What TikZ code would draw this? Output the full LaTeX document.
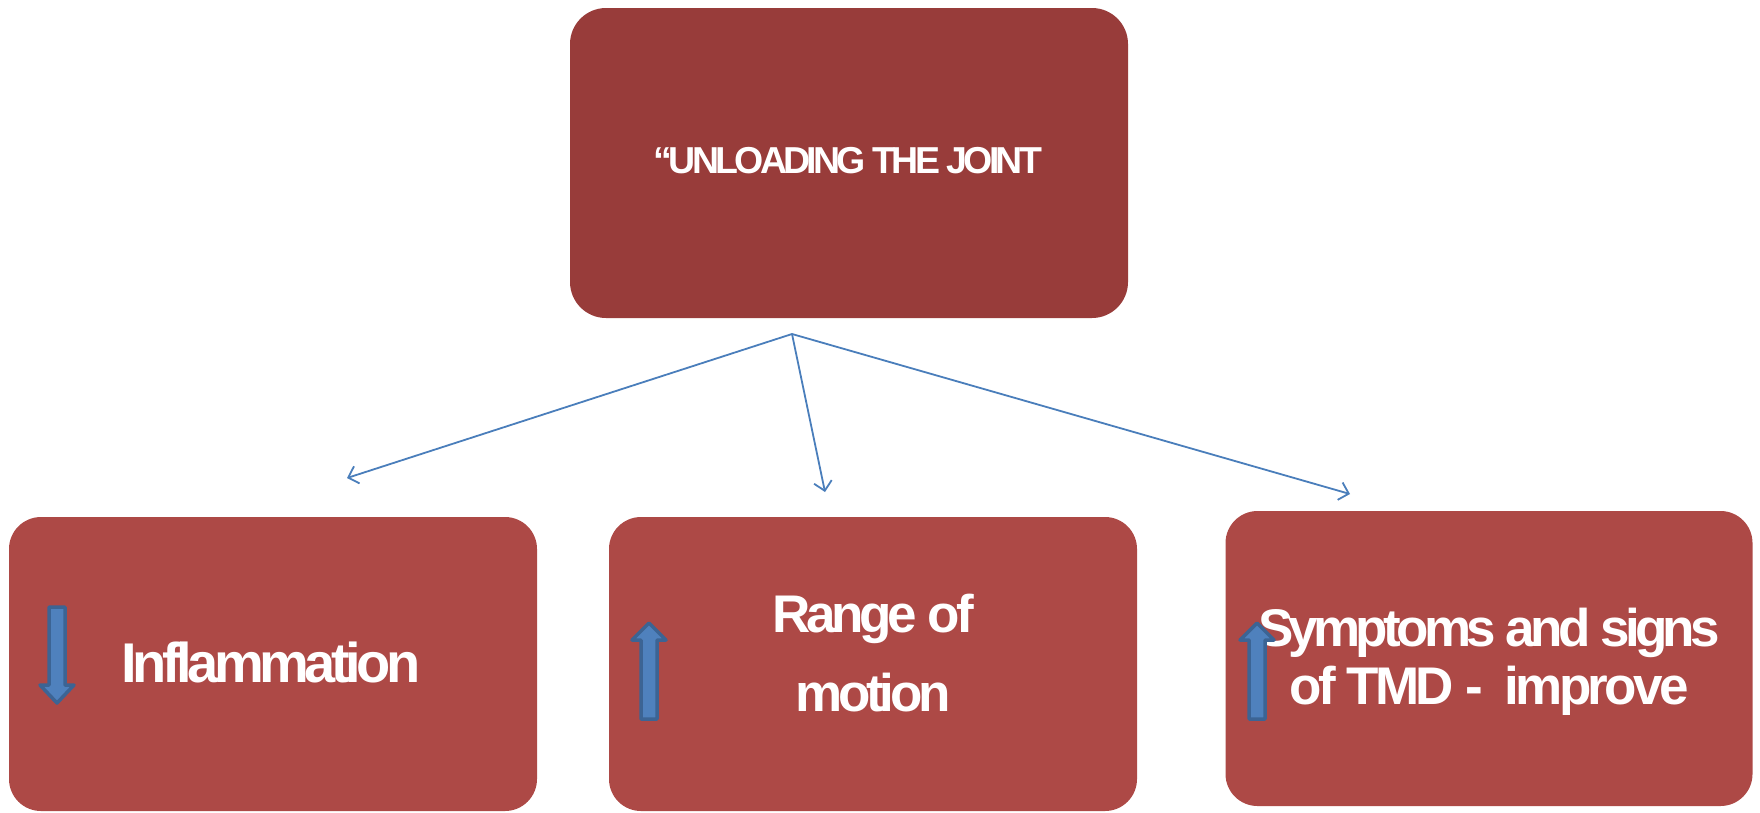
\documentclass[tikz,border=0pt]{standalone}
\usepackage{fontspec}
\setmainfont{Liberation Sans}
\usetikzlibrary{arrows.meta}
\definecolor{topred}{HTML}{983C3A}
\definecolor{botred}{HTML}{AD4946}
\definecolor{linkblue}{HTML}{4A7EBB}
\definecolor{bafill}{HTML}{4F81BD}
\definecolor{baline}{HTML}{3C6494}
\tikzset{
  box/.style={rectangle, rounded corners=32pt, fill=botred, draw=none, inner sep=0pt,
    minimum width=528pt, minimum height=294pt},
  lbl/.style={text=white, inner sep=0pt, align=center},
  connector/.style={draw=linkblue, line width=1.8pt,
    -{Straight Barb[length=9pt,width=18pt,line width=1.8pt]}},
  blockarrow/.style={fill=bafill, draw=baline, line width=3.5pt, line join=round}
}
\begin{document}
\begin{tikzpicture}[x=1pt,y=-1pt]
\useasboundingbox (0,0) rectangle (1760,812);
% boxes
\node[box, fill=topred, rounded corners=36pt, minimum width=558pt, minimum height=310pt] (top) at (849,163) {};
\node[box] (left) at (273,664) {};
\node[box] (mid) at (873,664) {};
\node[box, minimum width=527pt, minimum height=295pt] (right) at (1489,658.5) {};
% texts
\node[lbl, anchor=base, font=\fontsize{37.5}{45}\selectfont\bfseries\addfontfeature{LetterSpace=-10}] (toptxt) at (848,173) {“UNLOADING THE JOINT};
\node[lbl, anchor=base, font=\fontsize{56}{67}\selectfont\bfseries\addfontfeature{LetterSpace=-8}] (lefttxt) at (271,682) {Inflammation};
\node[lbl, font=\fontsize{53}{79}\selectfont\bfseries\addfontfeature{LetterSpace=-8}] (midtxt) at (873,653) {Range of\\motion};
\node[lbl, font=\fontsize{53}{58}\selectfont\bfseries\addfontfeature{LetterSpace=-7}] (righttxt) at (1489,662) {{\addfontfeature{LetterSpace=-9}Symptoms and signs}\\{\addfontfeature{LetterSpace=-7}of TMD -\ \ improve}};
% connectors
\coordinate (hub) at (792,334);
\coordinate (e1) at (347,478);
\coordinate (e2) at (825,492);
\coordinate (e3) at (1350,494);
\draw[connector] (hub) -- (e1);
\draw[connector] (hub) -- (e2);
\draw[connector] (hub) -- (e3);
% block arrows
\draw[blockarrow] (49,607) -- (65,607) -- (65,685) -- (74,685) -- (57,703) -- (40,685) -- (49,685) -- cycle;
\draw[blockarrow] (641,719) -- (657,719) -- (657,640) -- (666,640) -- (649,623) -- (632,640) -- (641,640) -- cycle;
\draw[blockarrow] (1249,719) -- (1265,719) -- (1265,640) -- (1274,640) -- (1257,623) -- (1240,640) -- (1249,640) -- cycle;
\end{tikzpicture}
\end{document}
